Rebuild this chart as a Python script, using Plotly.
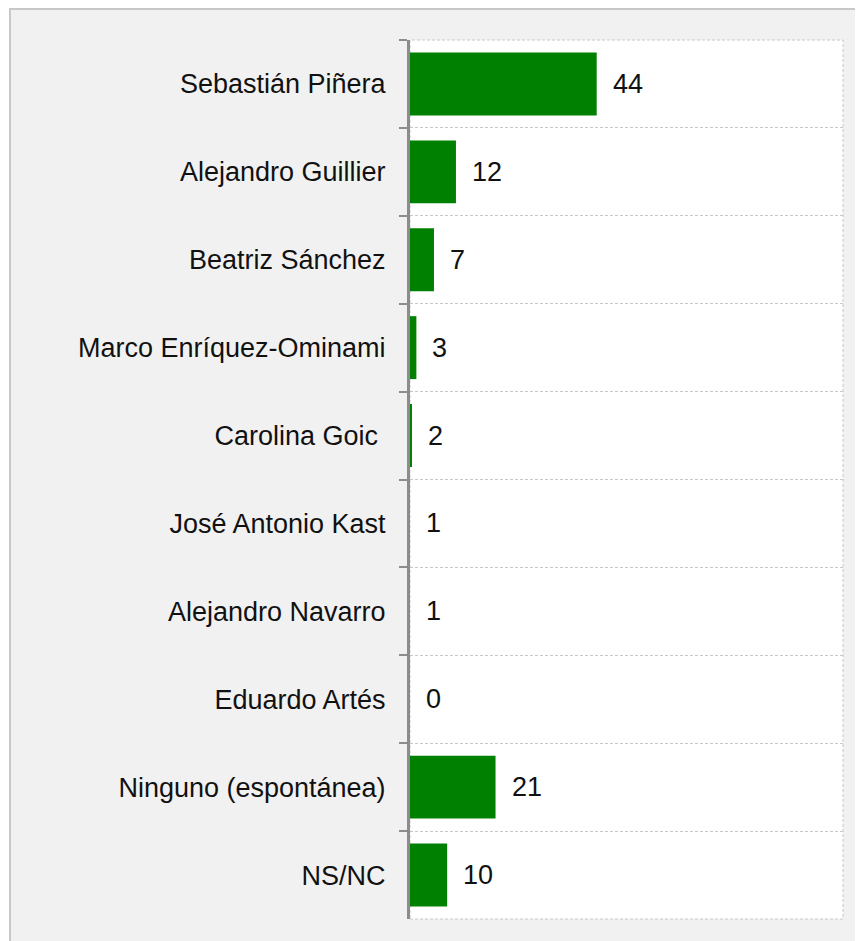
import plotly.graph_objects as go

categories = [
    "Sebastián Piñera",
    "Alejandro Guillier",
    "Beatriz Sánchez",
    "Marco Enríquez-Ominami",
    "Carolina Goic\u00a0",
    "José Antonio Kast",
    "Alejandro Navarro",
    "Eduardo Artés",
    "Ninguno (espontánea)",
    "NS/NC",
]
values = [44, 12, 7, 3, 2, 1, 1, 0, 21, 10]
value_labels = ["44", "12", "7", "3", "2", "1", "1", "0", "21", "10"]

X_MIN, X_MAX = 1.55, 100
BAR_COLOR = "#008000"
FONT = "Liberation Sans, Arial, sans-serif"

fig = go.Figure()
fig.add_trace(go.Bar(
    y=categories, x=values, orientation="h",
    marker=dict(color=BAR_COLOR, line=dict(width=0)),
    hoverinfo="skip",
))

annotations = []
for cat, v, lab in zip(categories, values, value_labels):
    annotations.append(dict(
        x=max(v, X_MIN), y=cat, xref="x", yref="y",
        text=lab, showarrow=False, xanchor="left", yanchor="middle",
        xshift=14, font=dict(family=FONT, size=27, color="#111111"),
    ))

# page has an 8px body margin, so the figure is 8px smaller than the window
W, H = 855, 933
L, R, T, B = 402, 20, 32, 22
pw, ph = W - L - R, H - T - B

shapes = [
    # outer gray frame
    dict(type="rect", xref="paper", yref="paper", layer="below",
         x0=(2 - L) / pw, x1=(W + 20 - L) / pw,
         y0=-(B + 20) / ph, y1=(H - B - 1) / ph,
         fillcolor="#f1f1f1", line=dict(color="#c8c8c8", width=2)),
    # white plot area with dashed border
    dict(type="rect", xref="paper", yref="paper", layer="below",
         x0=0, x1=1, y0=0, y1=1,
         fillcolor="#ffffff", line=dict(color="#c8c8c8", width=1, dash="3px,2px")),
]

fig.update_layout(
    width=W, height=H,
    margin=dict(l=L, r=R, t=T, b=B, pad=0),
    paper_bgcolor="#ffffff",
    plot_bgcolor="rgba(0,0,0,0)",
    showlegend=False,
    bargap=0.284,
    shapes=shapes,
    annotations=annotations,
    font=dict(family=FONT, size=27, color="#222222"),
)
fig.update_xaxes(visible=False, range=[X_MIN, X_MAX], showgrid=False, zeroline=False)
fig.update_yaxes(
    autorange="reversed",
    tickson="boundaries",
    ticks="outside", ticklen=8, tickwidth=2, tickcolor="#8c8c8c",
    showline=True, linecolor="#8c8c8c", linewidth=3,
    showgrid=True, gridcolor="#c8c8c8", gridwidth=1, griddash="3px,2px",
    ticklabelstandoff=16,
    tickfont=dict(family=FONT, size=27, color="#111111"),
)

fig.write_html("out.html")
